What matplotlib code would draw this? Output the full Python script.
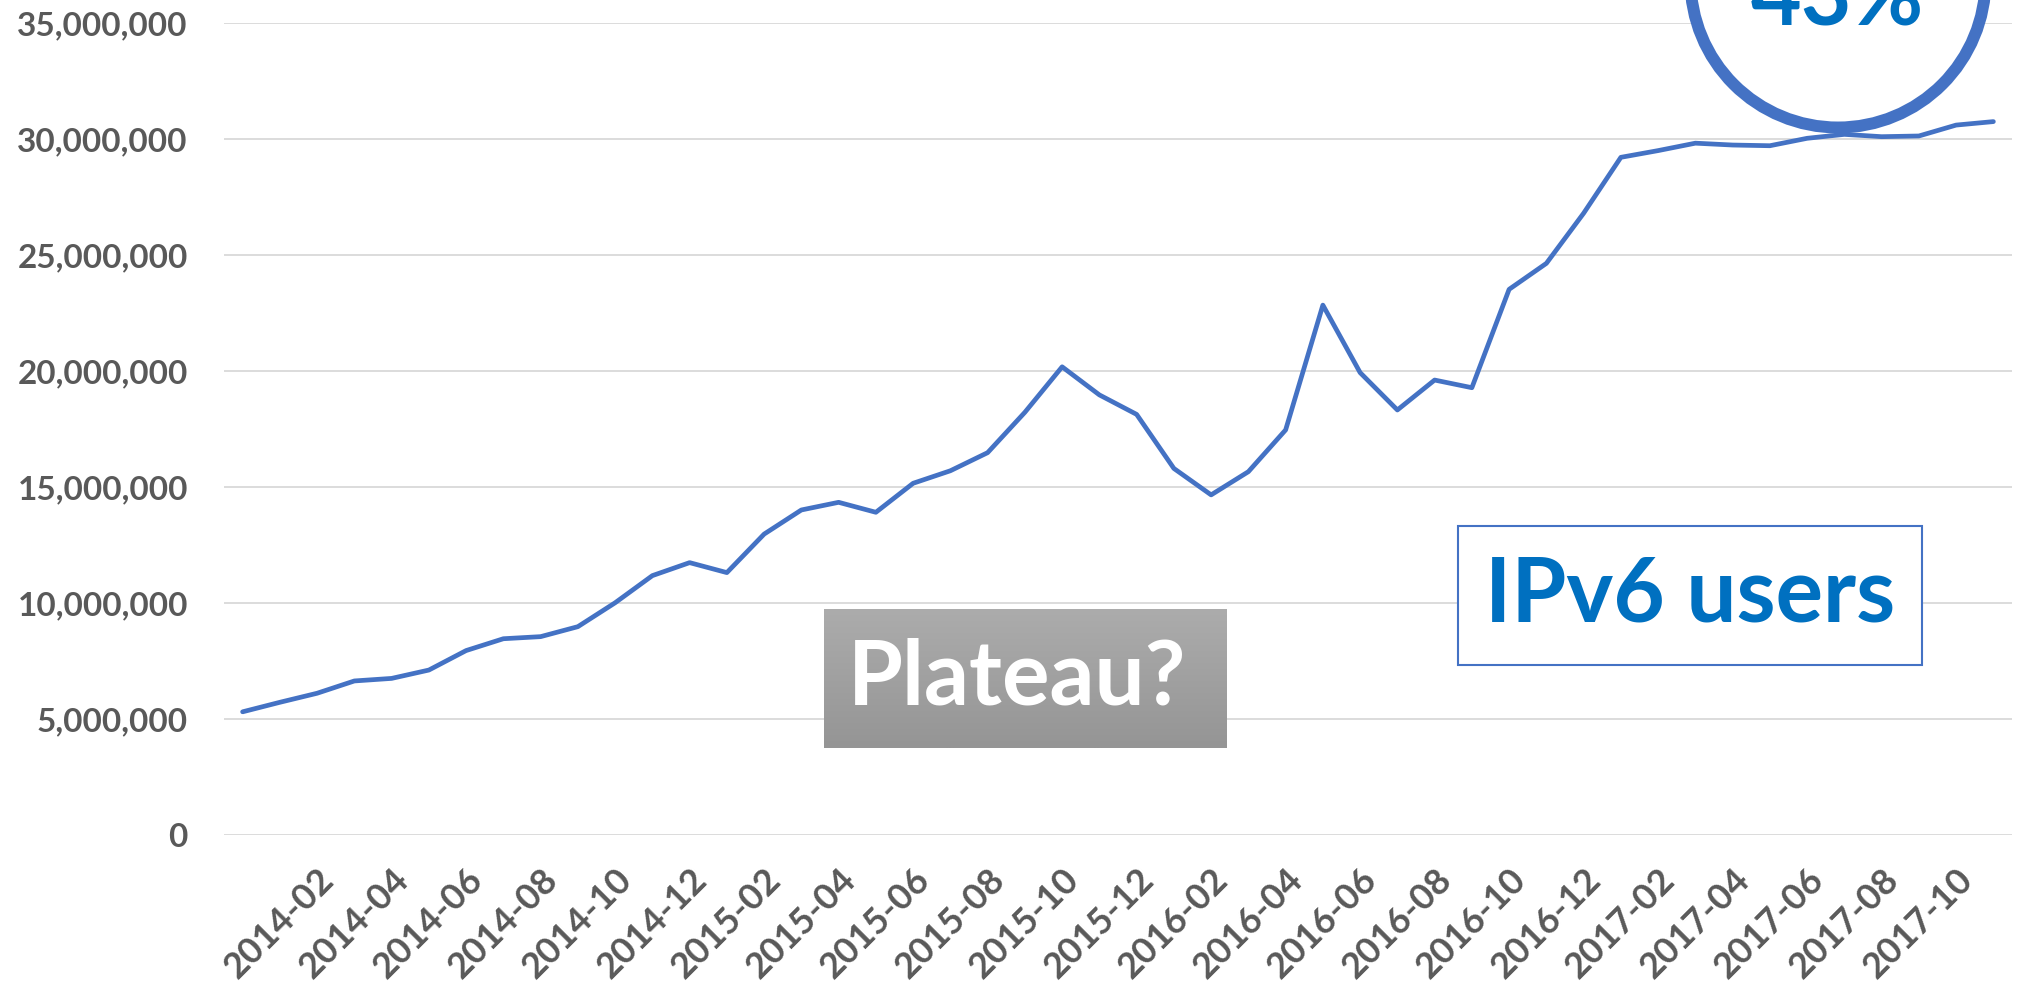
import numpy as np
import pandas as pd
import matplotlib
matplotlib.use('Agg')
import matplotlib.pyplot as plt
from matplotlib.patches import Rectangle, Ellipse
from matplotlib.ticker import FuncFormatter

plt.rcParams['font.family'] = ['Lato', 'DejaVu Sans']

# Monthly IPv6 users, Dec 2013 .. Nov 2017
months = [p.strftime('%Y-%m') for p in pd.period_range('2013-12', '2017-11', freq='M')]
users = [5.31, 5.72, 6.11, 6.64, 6.75, 7.11, 7.95, 8.46, 8.55, 8.98,
         10.01, 11.18, 11.74, 11.31, 12.97, 14.01, 14.34, 13.91, 15.16, 15.70,
         16.48, 18.22, 20.18, 18.97, 18.13, 15.80, 14.66, 15.66, 17.46, 22.84,
         19.93, 18.32, 19.61, 19.28, 23.52, 24.64, 26.80, 29.21, 29.50, 29.82,
         29.74, 29.71, 30.03, 30.20, 30.10, 30.13, 30.60, 30.75]
users = [u * 1e6 for u in users]
y_ticks = [0, 5e6, 10e6, 15e6, 20e6, 25e6, 30e6, 35e6]

W, H = 2032, 981
fig = plt.figure(figsize=(W / 100, H / 100), dpi=100)
ax = fig.add_axes([224 / W, 1 - 835 / H, 1788 / W, 812 / H])

x = np.arange(len(months))
ax.plot(x, users, color='#4472C4', lw=3.4, solid_joinstyle='round', solid_capstyle='round', zorder=3)

ax.set_xlim(-0.5, len(months) - 0.5)
ax.set_ylim(0, 35e6)
ax.set_yticks(y_ticks)
ax.yaxis.set_major_formatter(FuncFormatter(lambda v, p: f'{v:,.0f}'))
ax.yaxis.grid(True, color='#D9D9D9', lw=1.3)
ax.set_axisbelow(True)
for s in ax.spines.values():
    s.set_visible(False)

ax.set_xticks(x[2::2])
ax.set_xticklabels(months[2::2], rotation=45, ha='right', va='top', rotation_mode='anchor')
ax.tick_params(axis='x', length=0, pad=20, labelsize=26, labelcolor='#595959')
ax.tick_params(axis='y', length=0, pad=26, labelsize=24, labelcolor='#595959')
for lab in ax.get_xticklabels() + ax.get_yticklabels():
    lab.set_fontweight('bold')

# "Plateau?" grey gradient box
bax = fig.add_axes([824 / W, 1 - 748 / H, 403 / W, 139 / H])
grad = np.linspace(0, 1, 100).reshape(-1, 1)
top = np.array([0xAC, 0xAC, 0xAC]) / 255
bot = np.array([0x95, 0x95, 0x95]) / 255
img = top + (bot - top) * grad[:, :, None]
bax.imshow(img, aspect='auto', extent=[0, 1, 0, 1])
bax.axis('off')
bax.text(0.48, 0.5, 'Plateau?', ha='center', va='center', fontsize=64,
         fontweight='bold', color='white', transform=bax.transAxes)

# "IPv6 users" box
fig.add_artist(Rectangle((1458 / W, 1 - 665 / H), 464 / W, 139 / H, transform=fig.transFigure,
                         facecolor='white', edgecolor='#4472C4', lw=1.5))
fig.text(1690 / W, 1 - 596 / H, 'IPv6 users', ha='center', va='center', fontsize=64,
         fontweight='bold', color='#0070C0')

# 43% circle at top right (cut by the top edge, as in the original slide)
fig.add_artist(Ellipse((1838 / W, 1 + 20 / H), 295 / W, 295 / H, transform=fig.transFigure,
                       facecolor='white', edgecolor='#4472C4', lw=8.6, clip_on=False))
fig.text(1837 / W, 1 - 25 / H, '43%', ha='center', va='baseline', fontsize=63,
         fontweight='bold', color='#0070C0')

fig.savefig('out.png', dpi=100)
